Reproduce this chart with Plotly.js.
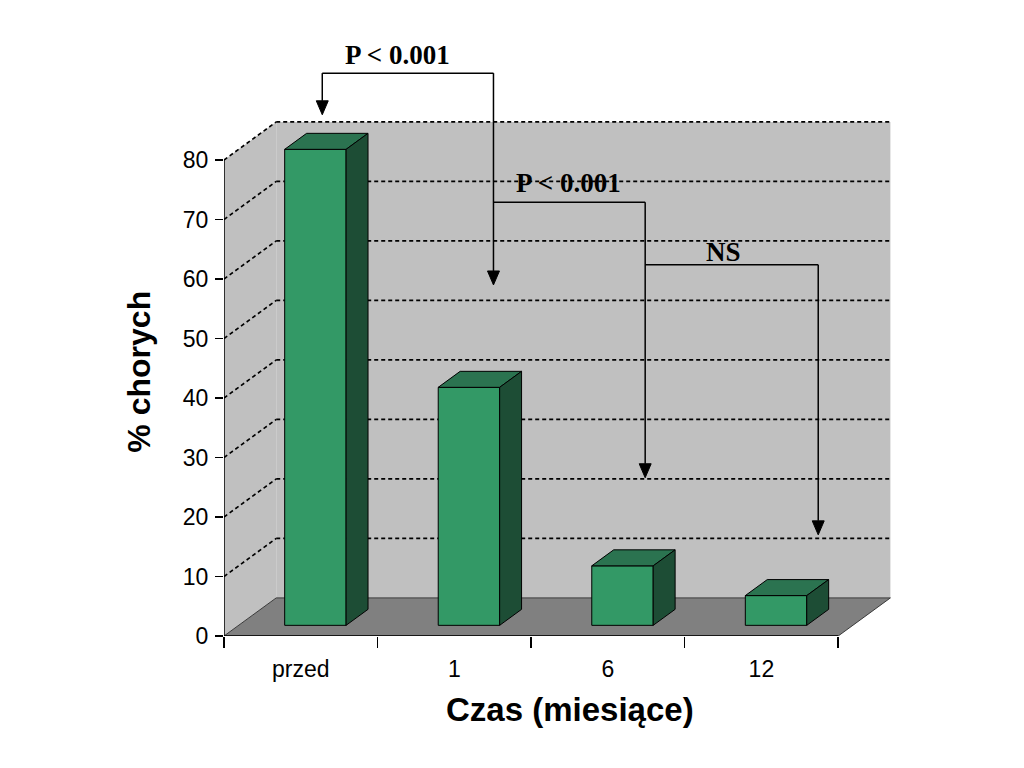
<!DOCTYPE html>
<html>
<head>
<meta charset="utf-8">
<script src="https://cdn.plot.ly/plotly-3.0.1.min.js"></script>
<style>html,body{margin:0;padding:0;background:#fff;}#chart{width:1024px;height:768px;}</style>
</head>
<body>
<div id="chart"></div>
<script>
// ---- data ----
var categories = ['przed', '1', '6', '12'];
var values = [80, 40, 10, 5];
var yTicks = [0, 10, 20, 30, 40, 50, 60, 70, 80];
var comparisonLabels = ['P &lt; 0.001', 'P &lt; 0.001', 'NS'];

// ---- 3D geometry (axis units) ----
var DX = 0.34, DY = 6.4;          // full depth offset
var FRONT = 0.28, BDEPTH = 0.42;  // bar front depth & bar depth (fractions)
var HW = 0.2;                     // bar half width
var bx0 = FRONT * DX, by0 = FRONT * DY;
var bdx = BDEPTH * DX, bdy = BDEPTH * DY;
var YMAX = 80, XL = -0.5, XR = categories.length - 0.5;

var sans = 'Liberation Sans, Arial, sans-serif';
var serif = 'Liberation Serif, Times New Roman, serif';

var xs = categories.map(function (c, i) { return i; });
var traces = [];
traces.push({
  type: 'bar', x: xs, y: values, base: by0, offset: bx0 - HW, width: 2 * HW,
  marker: { color: '#339966', line: { color: '#000', width: 1 } },
  hoverinfo: 'skip', showlegend: false
});
values.forEach(function (v, i) {
  var xl = i + bx0 - HW, xr = i + bx0 + HW, yb = by0, yt = v + by0;
  traces.push({
    type: 'scatter', mode: 'lines', fill: 'toself', fillcolor: '#2b7350',
    x: [xl, xr, xr + bdx, xl + bdx, xl], y: [yt, yt, yt + bdy, yt + bdy, yt],
    line: { color: '#000', width: 1 }, hoverinfo: 'skip', showlegend: false
  });
  traces.push({
    type: 'scatter', mode: 'lines', fill: 'toself', fillcolor: '#1d4d35',
    x: [xr, xr + bdx, xr + bdx, xr, xr], y: [yb, yb + bdy, yt + bdy, yt, yb],
    line: { color: '#000', width: 1 }, hoverinfo: 'skip', showlegend: false
  });
});

var shapes = [];
// left wall
shapes.push({ type: 'path', layer: 'below', xref: 'x', yref: 'y',
  path: 'M' + XL + ',0 L' + (XL + DX) + ',' + DY + ' L' + (XL + DX) + ',' + (YMAX + DY) + ' L' + XL + ',' + YMAX + ' Z',
  fillcolor: '#c0c0c0', line: { width: 0 } });
// back wall
shapes.push({ type: 'rect', layer: 'below', xref: 'x', yref: 'y',
  x0: XL + DX, x1: XR + DX, y0: DY, y1: YMAX + DY, fillcolor: '#c0c0c0', line: { width: 0 } });
// floor
shapes.push({ type: 'path', layer: 'below', xref: 'x', yref: 'y',
  path: 'M' + XL + ',0 L' + XR + ',0 L' + (XR + DX) + ',' + DY + ' L' + (XL + DX) + ',' + DY + ' Z',
  fillcolor: '#808080', line: { color: '#3a3a3a', width: 1 } });
// gridlines
var gridLine = { color: '#000', width: 1.6, dash: '4px,3px' };
yTicks.forEach(function (t) {
  if (t === 0) return;
  shapes.push({ type: 'line', layer: 'below', xref: 'x', yref: 'y',
    x0: XL + DX, x1: XR + DX, y0: t + DY, y1: t + DY, line: gridLine });
  shapes.push({ type: 'line', layer: 'below', xref: 'x', yref: 'y',
    x0: XL, x1: XL + DX, y0: t, y1: t + DY, line: gridLine });
});
// front axes lines
shapes.push({ type: 'line', xref: 'x', yref: 'y', x0: XL, x1: XL, y0: 0, y1: YMAX, line: { color: '#000', width: 1.5 } });
shapes.push({ type: 'line', xref: 'x', yref: 'y', x0: XL, x1: XR, y0: 0, y1: 0, line: { color: '#000', width: 1.5 } });

// comparison brackets (annotation geometry, axis units)
var brackets = [
  { x0: 0.14, x1: 1.255, level: 94.6, lx: 0.627, ly: 97.6 },
  { x0: 1.255, x1: 2.243, level: 72.9, lx: 1.741, ly: 76.1 },
  { x0: 2.243, x1: 3.37, level: 62.4, lx: 2.75, ly: 64.6 }
];
var arrowTips = [87.6, 59.0, 26.6, 17.0];
var AH = 2.35, AW = 0.039;
function arrow(x, top, tip) {
  shapes.push({ type: 'line', xref: 'x', yref: 'y', x0: x, x1: x, y0: top, y1: tip + AH,
    line: { color: '#000', width: 1.5 } });
  shapes.push({ type: 'path', xref: 'x', yref: 'y',
    path: 'M' + (x - AW) + ',' + (tip + AH) + ' L' + (x + AW) + ',' + (tip + AH) + ' L' + x + ',' + tip + ' Z',
    fillcolor: '#000', line: { color: '#000', width: 1 } });
}
brackets.forEach(function (b) {
  shapes.push({ type: 'line', xref: 'x', yref: 'y', x0: b.x0, x1: b.x1, y0: b.level, y1: b.level,
    line: { color: '#000', width: 1.5 } });
});
arrow(brackets[0].x0, brackets[0].level, arrowTips[0]);
arrow(brackets[0].x1, brackets[0].level, arrowTips[1]);
arrow(brackets[1].x1, brackets[1].level, arrowTips[2]);
arrow(brackets[2].x1, brackets[2].level, arrowTips[3]);

var annotations = brackets.map(function (b, i) {
  return { xref: 'x', yref: 'y', x: b.lx, y: b.ly, text: '<b>' + comparisonLabels[i] + '</b>',
    showarrow: false, xanchor: 'center', yanchor: 'middle',
    font: { family: serif, size: 27, color: '#000' } };
});
annotations.push({ xref: 'paper', yref: 'paper', x: -0.128, y: 0.4445, text: '<b>% chorych</b>', textangle: -90,
  showarrow: false, xanchor: 'center', yanchor: 'middle', font: { family: sans, size: 32, color: '#000' } });
annotations.push({ xref: 'paper', yref: 'paper', x: 0.516, y: -0.124, text: '<b>Czas (miesiące)</b>',
  showarrow: false, xanchor: 'center', yanchor: 'middle', font: { family: sans, size: 33, color: '#000' } });

var layout = {
  width: 1024, height: 768,
  margin: { l: 224, r: 129, t: 41, b: 132, pad: 0 },
  paper_bgcolor: '#fff', plot_bgcolor: 'rgba(0,0,0,0)',
  showlegend: false, bargap: 0,
  xaxis: {
    type: 'linear', range: [XL, XR + 0.37], fixedrange: true,
    tickmode: 'array', tickvals: xs, ticktext: categories,
    ticks: 'outside', ticklen: 12, tickcolor: 'rgba(0,0,0,0)',
    tickfont: { family: sans, size: 23, color: '#000' },
    showgrid: false, zeroline: false, showline: false,
    minor: { tickmode: 'array', tickvals: xs.concat([categories.length]).map(function (i) { return i - 0.5; }),
      ticks: 'outside', ticklen: 11, tickwidth: 1.5, tickcolor: '#000', showgrid: false }
  },
  yaxis: {
    range: [0, 100], fixedrange: true,
    tickmode: 'array', tickvals: yTicks,
    ticks: 'outside', ticklen: 8, tickwidth: 1.5, tickcolor: '#000', ticklabelstandoff: 2,
    tickfont: { family: sans, size: 23, color: '#000' },
    showgrid: false, zeroline: false, showline: false
  },
  shapes: shapes,
  annotations: annotations
};

Plotly.newPlot('chart', traces, layout, { staticPlot: true, displayModeBar: false });
</script>
</body>
</html>
